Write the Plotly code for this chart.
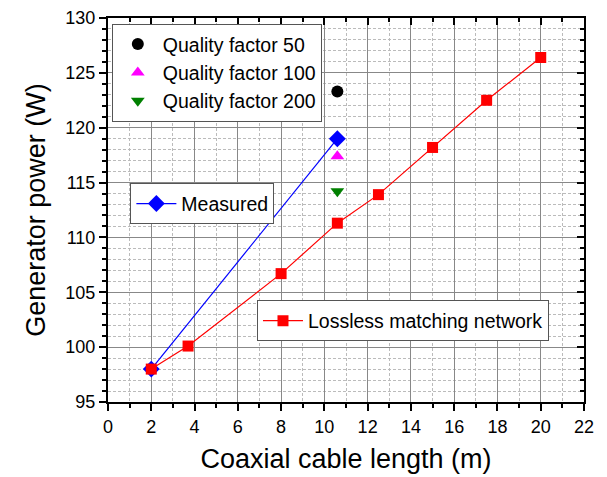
import plotly.graph_objects as go

# Data
lossless_x = [2, 3.7, 8, 10.6, 12.5, 15, 17.5, 20]
lossless_y = [98.0, 100.1, 106.7, 111.3, 113.9, 118.2, 122.5, 126.4]
measured_x = [2, 10.6]
measured_y = [98.0, 119.0]
q50_x, q50_y = [10.6], [123.3]
q100_x, q100_y = [10.6], [117.4]
q200_x, q200_y = [10.6], [114.2]

FONT = "Liberation Sans, Arial, sans-serif"
LEG_FONT = dict(family=FONT, size=19.5, color="black")

fig = go.Figure()
fig.add_trace(go.Scatter(x=q50_x, y=q50_y, mode="markers", name="Quality factor 50",
                         marker=dict(symbol="circle", size=12, color="black"), legend="legend"))
fig.add_trace(go.Scatter(x=q100_x, y=q100_y, mode="markers", name="Quality factor 100",
                         marker=dict(symbol="triangle-up", size=12, color="#FF00FF"), legend="legend"))
fig.add_trace(go.Scatter(x=q200_x, y=q200_y, mode="markers", name="Quality factor 200",
                         marker=dict(symbol="triangle-down", size=12, color="#008000"), legend="legend"))
fig.add_trace(go.Scatter(x=measured_x, y=measured_y, mode="lines+markers", name="Measured",
                         line=dict(color="#0000FF", width=1.2),
                         marker=dict(symbol="diamond", size=13, color="#0000FF"), legend="legend2"))
fig.add_trace(go.Scatter(x=lossless_x, y=lossless_y, mode="lines+markers", name="Lossless matching network",
                         line=dict(color="#FF0000", width=1.2),
                         marker=dict(symbol="square", size=11, color="#FF0000"), legend="legend3"))
# invisible trace to create mirror axes
fig.add_trace(go.Scatter(x=[0], y=[95], xaxis="x2", yaxis="y2", mode="markers",
                         marker=dict(opacity=0), showlegend=False, hoverinfo="skip"))

axis_common = dict(
    showline=True, linecolor="black", linewidth=2,
    tickcolor="black", tickwidth=2, ticklen=7,
    tickfont=dict(family=FONT, size=18, color="black"),
    showgrid=True, gridcolor="#888888", gridwidth=1,
    zeroline=False, automargin=False,
)
minor_common = dict(dtick=1, ticks="outside", ticklen=4, tickwidth=2, tickcolor="black",
                    showgrid=True, gridcolor="#bbbbbb", griddash="3px,2px", gridwidth=1)

fig.update_layout(
    width=607, height=477,
    margin=dict(l=108, r=23, t=18, b=75),
    paper_bgcolor="white", plot_bgcolor="white",
    font=dict(family=FONT, color="black"),
    xaxis=dict(range=[0, 22], dtick=2, tick0=0, ticks="outside",
               title=dict(text="Coaxial cable length (m)", font=dict(family=FONT, size=27), standoff=14),
               minor=minor_common, **axis_common),
    yaxis=dict(range=[95, 130], dtick=5, tick0=95, ticks="outside",
               title=dict(text="Generator power (W)", font=dict(family=FONT, size=27), standoff=12),
               minor=minor_common, **axis_common),
    xaxis2=dict(range=[0, 22], dtick=2, tick0=0, overlaying="x", side="top", anchor="y2",
                ticks="inside", ticklen=7, tickwidth=2, tickcolor="black", showticklabels=False,
                showline=True, linecolor="black", linewidth=2, showgrid=False, zeroline=False,
                automargin=False,
                minor=dict(dtick=1, ticks="inside", ticklen=4, tickwidth=2, tickcolor="black")),
    yaxis2=dict(range=[95, 130], dtick=5, tick0=95, overlaying="y", side="right", anchor="x2",
                ticks="inside", ticklen=7, tickwidth=2, tickcolor="black", showticklabels=False,
                showline=True, linecolor="black", linewidth=2, showgrid=False, zeroline=False,
                automargin=False,
                minor=dict(dtick=1, ticks="inside", ticklen=4, tickwidth=2, tickcolor="black")),
    legend=dict(x=0.008, y=0.857, xanchor="left", yanchor="middle",
                bgcolor="white", bordercolor="#555555", borderwidth=1,
                font=LEG_FONT, tracegroupgap=0, itemwidth=40),
    legend2=dict(x=0.047, y=0.516, xanchor="left", yanchor="middle",
                 bgcolor="white", bordercolor="#555555", borderwidth=1,
                 font=LEG_FONT, itemwidth=40),
    legend3=dict(x=0.313, y=0.211, xanchor="left", yanchor="middle",
                 bgcolor="white", bordercolor="#555555", borderwidth=1,
                 font=LEG_FONT, itemwidth=40),
)

fig.write_html("out.html")
